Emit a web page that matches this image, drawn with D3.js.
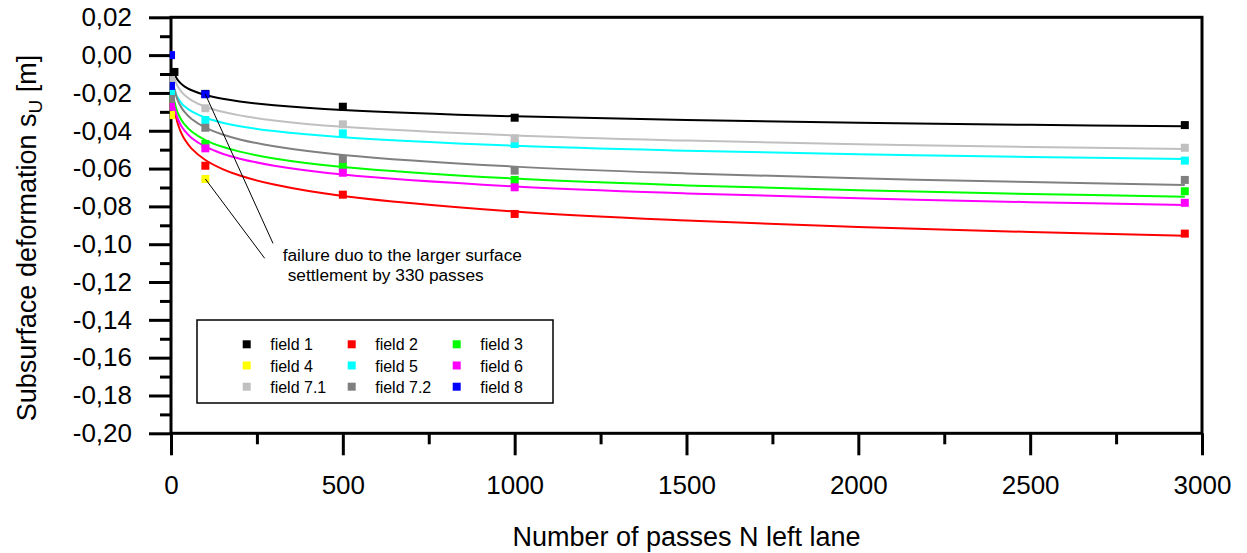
<!DOCTYPE html>
<html><head><meta charset="utf-8">
<script src="https://cdn.jsdelivr.net/npm/d3@7"></script>
<style>
body{margin:0;background:#fff}
svg{display:block;font-family:"Liberation Sans",Arial,Helvetica,sans-serif}
</style>
</head><body>
<svg id="chart" width="1247" height="553"></svg>
<script>
// ---------- data ----------
const seriesNames  = ["field 1","field 2","field 3","field 4","field 5","field 6","field 7.1","field 7.2","field 8"];
const seriesColors = ["#000000","#ff0000","#00ff00","#ffff00","#00ffff","#ff00ff","#c0c0c0","#808080","#0000ff"];

// measured points (N passes, subsurface deformation in m)
const passesField1 = [10, 100, 500, 1000, 2950];
const passesFull   = [0, 100, 500, 1000, 2950];
const passesField4 = [0, 100];
const passesField8 = [0, 0, 100];
const field1  = [-0.0089, -0.0205, -0.0273, -0.0331, -0.0370];
const field2  = [-0.0262, -0.0585, -0.0738, -0.0840, -0.0944];
const field3  = [-0.0230, -0.0470, -0.0586, -0.0660, -0.0720];
const field4  = [-0.0317, -0.0655];
const field5  = [-0.0197, -0.0343, -0.0414, -0.0470, -0.0558];
const field6  = [-0.0273, -0.0493, -0.0622, -0.0699, -0.0781];
const field71 = [-0.0132, -0.0281, -0.0366, -0.0440, -0.0490];
const field72 = [-0.0232, -0.0384, -0.0549, -0.0611, -0.0660];
const field8  = [0.0000, -0.0163, -0.0207];

// fitted trend curves
const fitPasses = [10, 15, 20, 30, 40, 60, 100, 150, 200, 300, 500, 1000, 1500, 2000, 2500, 2950];
const fit1  = [-0.00984,-0.01182,-0.01323,-0.01521,-0.01662,-0.01860,-0.02110,-0.02308,-0.02449,-0.02647,-0.02897,-0.03236,-0.03435,-0.03576,-0.03685,-0.03766];
const fit2  = [-0.02823,-0.03303,-0.03643,-0.04123,-0.04463,-0.04943,-0.05547,-0.06027,-0.06367,-0.06847,-0.07451,-0.08271,-0.08751,-0.09091,-0.09355,-0.09551];
const fit3  = [-0.02449,-0.02809,-0.03064,-0.03423,-0.03678,-0.04037,-0.04490,-0.04849,-0.05104,-0.05464,-0.05916,-0.06531,-0.06890,-0.07145,-0.07343,-0.07490];
const fit5  = [-0.01824,-0.02086,-0.02272,-0.02533,-0.02719,-0.02980,-0.03310,-0.03572,-0.03757,-0.04019,-0.04348,-0.04796,-0.05057,-0.05243,-0.05387,-0.05494];
const fit6  = [-0.02746,-0.03115,-0.03378,-0.03747,-0.04009,-0.04379,-0.04844,-0.05214,-0.05476,-0.05845,-0.06311,-0.06942,-0.07312,-0.07574,-0.07777,-0.07928];
const fit71 = [-0.01207,-0.01475,-0.01665,-0.01933,-0.02123,-0.02391,-0.02729,-0.02997,-0.03187,-0.03455,-0.03793,-0.04251,-0.04519,-0.04709,-0.04857,-0.04966];
const fit72 = [-0.01781,-0.02144,-0.02401,-0.02763,-0.03020,-0.03383,-0.03839,-0.04201,-0.04458,-0.04821,-0.05277,-0.05897,-0.06259,-0.06516,-0.06716,-0.06864];

const xMajorTicks = [0, 500, 1000, 1500, 2000, 2500, 3000];
const xMinorTicks = [250, 750, 1250, 1750, 2250, 2750];
const yMajorTicks = [0.02, 0, -0.02, -0.04, -0.06, -0.08, -0.10, -0.12, -0.14, -0.16, -0.18, -0.20];
const yMinorTicks = [0.01, -0.01, -0.03, -0.05, -0.07, -0.09, -0.11, -0.13, -0.15, -0.17, -0.19];

const xTitle = "Number of passes N left lane";
const annotationText = ["failure duo to the larger surface", "settlement by 330 passes"];
const annotationAt = {N: 325, v: -0.1089};

// ---------- assemble ----------
const pointSeries = [
  {i:0, N: passesField1, v: field1},
  {i:1, N: passesFull,   v: field2},
  {i:2, N: passesFull,   v: field3},
  {i:3, N: passesField4, v: field4},
  {i:4, N: passesFull,   v: field5},
  {i:5, N: passesFull,   v: field6},
  {i:6, N: passesFull,   v: field71},
  {i:7, N: passesFull,   v: field72},
  {i:8, N: passesField8, v: field8}
];
const fitSeries = [
  {i:0, v: fit1}, {i:1, v: fit2}, {i:2, v: fit3}, {i:4, v: fit5},
  {i:5, v: fit6}, {i:6, v: fit71}, {i:7, v: fit72}
];

const svg = d3.select("#chart");
const L = 171, R = 1202, T = 17.3, B = 433.3;
const x = d3.scaleLinear().domain([0, 3000]).range([L, R]);
const y = d3.scaleLinear().domain([-0.20, 0.02]).range([B, T]);

svg.append("defs").append("clipPath").attr("id", "plotclip")
  .append("rect").attr("x", L - 1.2).attr("y", T).attr("width", R - L + 1.2).attr("height", B - T);

const loc = d3.formatLocale({decimal: ",", thousands: ".", grouping: [3], currency: ["", ""], minus: "-"});
const fmtY = loc.format(".2f");

// axes
const axFont = 26;
function styleAxis(g) {
  g.select(".domain").remove();
  g.selectAll("line").attr("stroke", "#000").attr("stroke-width", 3);
  g.selectAll("text").attr("font-size", axFont).attr("fill", "#000").attr("font-family", "'Liberation Sans', Arial, sans-serif");
}
svg.append("g").attr("transform", `translate(${L},0)`)
  .call(d3.axisLeft(y).tickValues(yMajorTicks).tickSize(22).tickPadding(17).tickFormat(fmtY))
  .call(styleAxis);
svg.append("g").attr("transform", `translate(${L},0)`)
  .call(d3.axisLeft(y).tickValues(yMinorTicks).tickSize(11).tickFormat(""))
  .call(styleAxis);
svg.append("g").attr("transform", `translate(0,${B})`)
  .call(d3.axisBottom(x).tickValues(xMajorTicks).tickSize(22).tickPadding(20).tickFormat(d3.format("d")))
  .call(styleAxis);
svg.append("g").attr("transform", `translate(0,${B})`)
  .call(d3.axisBottom(x).tickValues(xMinorTicks).tickSize(11).tickFormat(""))
  .call(styleAxis);

// frame
svg.append("rect").attr("x", L).attr("y", T).attr("width", R - L).attr("height", B - T)
  .attr("fill", "none").attr("stroke", "#000").attr("stroke-width", 3);

const plot = svg.append("g").attr("clip-path", "url(#plotclip)");

// fit curves
const line = d3.line().curve(d3.curveCatmullRom.alpha(0.5));
plot.append("g").selectAll("path").data(fitSeries).join("path")
  .attr("d", s => line(fitPasses.map((n, k) => [x(n), y(s.v[k])])))
  .attr("fill", "none").attr("stroke", s => seriesColors[s.i]).attr("stroke-width", 2);

// points
const ms = 8;
pointSeries.forEach(s => {
  plot.append("g").selectAll("rect").data(s.N.map((n, k) => [n, s.v[k]])).join("rect")
    .attr("x", d => x(d[0]) - ms / 2).attr("y", d => y(d[1]) - ms / 2)
    .attr("width", ms).attr("height", ms).attr("fill", seriesColors[s.i]);
});

// annotation
const ax = x(annotationAt.N), ay = y(annotationAt.v);
const ann = svg.append("g");
ann.append("line").attr("x1", x(passesField8[2])).attr("y1", y(field8[2]))
  .attr("x2", ax - 9.7).attr("y2", ay - 17.7).attr("stroke", "#000").attr("stroke-width", 1);
ann.append("line").attr("x1", x(passesField4[1])).attr("y1", y(field4[1]))
  .attr("x2", ax - 18).attr("y2", ay - 2.7).attr("stroke", "#000").attr("stroke-width", 1);
ann.append("text").attr("x", ax).attr("y", ay).attr("font-size", 17.3).text(annotationText[0]);
ann.append("text").attr("x", ax + 5).attr("y", ay + 20).attr("font-size", 17.3).text(annotationText[1]);

// legend
const lg = svg.append("g");
lg.append("rect").attr("x", 197).attr("y", 320).attr("width", 356).attr("height", 83)
  .attr("fill", "#fff").attr("stroke", "#000").attr("stroke-width", 1.5);
seriesNames.forEach((name, k) => {
  const col = k % 3, row = Math.floor(k / 3);
  const cx = 246.7 + col * 105, cy = 344.3 + row * 21.2;
  lg.append("rect").attr("x", cx - 4).attr("y", cy - 4).attr("width", 8).attr("height", 8).attr("fill", seriesColors[k]);
  lg.append("text").attr("x", cx + 23.5).attr("y", cy + 6).attr("font-size", 16).text(name);
});

// axis titles
svg.append("text").attr("x", (L + R) / 2).attr("y", 546).attr("text-anchor", "middle")
  .attr("font-size", 27).text(xTitle);
const yt = svg.append("text").attr("transform", "translate(36,238) rotate(-90)")
  .attr("text-anchor", "middle").attr("font-size", 27);
yt.append("tspan").text("Subsurface deformation s");
yt.append("tspan").attr("font-size", 19).attr("dy", 6).text("U");
yt.append("tspan").attr("dy", -6).text(" [m]");
</script>
</body></html>
